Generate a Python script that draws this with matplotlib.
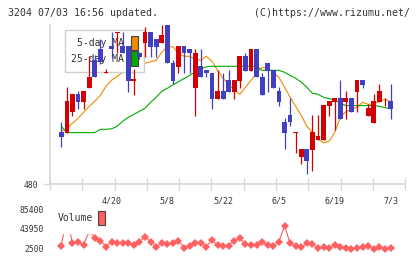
import numpy as np
import matplotlib
matplotlib.use("Agg")
import matplotlib.pyplot as plt
from matplotlib.patches import Patch

plt.rcParams['font.family'] = ['DejaVu Sans Mono', 'DejaVu Sans']

# ---- data ----
day = np.arange(-1, 60)
open_ = [542, 532, 531, 552, 570, 562, 576, 604, 615, 591, 618,
         631, 618, 618, 583, 611, 621, 632, 625, 621, 639,
         601, 597, 618, 615, 576, 598, 594, 591, 565, 573,
         584, 572, 583, 608, 593, 615, 587, 601, 594, 573,
         542, 549, 531, 507, 515, 514, 524, 524, 558, 562,
         566, 562, 566, 572, 584, 548, 541, 562, 563, 563]
high = [542, 542, 577, 570, 573, 573, 608, 609, 625, 595, 632,
        632, 632, 618, 595, 612, 637, 632, 625, 639, 639,
        604, 618, 618, 615, 615, 615, 594, 591, 594, 591,
        594, 584, 608, 611, 615, 615, 591, 601, 594, 577,
        546, 566, 532, 515, 515, 549, 549, 559, 563, 566,
        584, 573, 566, 584, 584, 560, 570, 580, 566, 580]
low = [542, 517, 531, 548, 555, 555, 576, 587, 600, 591, 606,
       611, 611, 572, 569, 605, 607, 607, 607, 621, 601,
       580, 591, 591, 591, 548, 587, 587, 555, 565, 565,
       572, 565, 576, 593, 593, 587, 569, 572, 576, 558,
       515, 538, 511, 500, 490, 493, 524, 524, 548, 534,
       545, 545, 552, 552, 576, 548, 541, 562, 558, 545]
close = [542, 527, 563, 570, 562, 573, 587, 587, 602, 592, 615,
         632, 611, 583, 585, 607, 632, 617, 617, 629, 601,
         583, 618, 611, 611, 611, 587, 591, 565, 573, 565,
         572, 584, 608, 593, 615, 587, 569, 593, 576, 562,
         531, 542, 532, 515, 503, 532, 528, 559, 563, 566,
         545, 566, 552, 584, 579, 556, 563, 573, 563, 555]
ma5 = [np.nan, 533, 536, 541, 546, 552, 558, 563, 569, 578, 584,
       588, 592, 595, 598, 600, 601, 602.5, 604, 612, 617.5,
       617.5, 611, 608, 608, 605, 604, 608, 603, 594, 586,
       580, 574, 570, 577, 584, 591, 597, 596, 591.5, 587,
       577.3, 567, 558, 549, 538, 532, 525.5, 521.5, 523, 532,
       547, 552.5, 555, 557, 562, 560, 560, 563, 565, 562.5]
ma25 = [np.nan, 538, 531.7, 531.7, 531.7, 531.7, 531.7, 531.7, 535, 535, 535.5,
        538, 543, 547, 550, 553, 556, 562, 567, 573, 576,
        579.4, 582.6, 585.8, 589, 592.2, 595.5, 597.5, 598, 598, 598,
        598, 598, 598, 598, 598, 598, 594, 594, 594, 594,
        592, 589, 586, 582.3, 577, 571, 570, 567, 565.7, 564,
        561, 558.7, 558.7, 558.7, 558.7, 558.7, 558.7, 558, 556.7, 555.7]
volume = [np.nan, 8100, 70000, 13100, 15200, 9500, 40000, 25100, 18700, 6000, 16600,
          14500, 14500, 13100, 9500, 16600, 27200, 16600, 6000, 13100, 10900,
          14500, 18000, 3800, 7400, 14500, 13100, 6000, 20200, 9500, 8100,
          7400, 18700, 23700, 11600, 9500, 9500, 15200, 9500, 7400, 16600,
          50600, 13100, 7400, 4600, 13100, 11600, 2400, 4600, 2400, 9500,
          4600, 2400, 1000, 2400, 4600, 7400, 1000, 4600, 1000, 2400]
tick_days = [9, 19, 29, 39, 49, 59]
tick_labels = ['4/20', '5/8', '5/22', '6/5', '6/19', '7/3']
vol_ticks = [2500, 43950, 85400]

RED = '#d40000'
BLUE = '#4040c0'
ORANGE = '#f08c00'
GREEN = '#00aa00'
VOLC = '#ff6060'
GRID = '#d8d8d8'
TXT = '#333333'

W, H = 420, 259
fig = plt.figure(figsize=(W / 100, H / 100), dpi=100)

xmin, xmax = -2.03, 61.65

# ---- price chart ----
ax = fig.add_axes([50 / W, 1 - 184.3 / H, 355.3 / W, 159.3 / H])
o = np.array(open_, float)
c = np.array(close, float)
up = c >= o
cols = np.where(up, RED, BLUE)
ax.vlines(day, low, high, colors=cols, lw=0.9, zorder=6)
body = np.maximum(np.abs(c - o), 0.8)
ax.bar(day, body, bottom=np.minimum(o, c), width=0.86, color=cols,
       linewidth=0, zorder=6)
ax.plot(day, ma5, color=ORANGE, lw=0.8, zorder=2)
ax.plot(day, ma25, color=GREEN, lw=0.8, zorder=2)

ax.set_xlim(xmin, xmax)
ax.set_ylim(480, 639.3)
for s in ['top', 'right']:
    ax.spines[s].set_visible(False)
for s in ['left', 'bottom']:
    ax.spines[s].set_color(GRID)
    ax.spines[s].set_linewidth(1.2)
ax.set_yticks([480])
ax.tick_params(axis='y', length=5, width=1, color=GRID, labelsize=5.8,
               labelcolor=TXT, pad=3.6)
ax.set_xticks(tick_days)
ax.set_xticklabels(tick_labels)
ax.set_xticks(np.linspace(xmin, xmax, 12), minor=True)
ax.tick_params(axis='x', which='major', length=0, labelsize=6,
               labelcolor=TXT, pad=9)
ax.tick_params(axis='x', which='minor', length=9, width=1, color=GRID,
               direction='inout')

handles = [Patch(facecolor=ORANGE, edgecolor='#444444', lw=0.8, label='5-day MA'),
           Patch(facecolor=GREEN, edgecolor='#444444', lw=0.8, label='25-day MA')]
leg = ax.legend(handles=handles, loc='upper left', bbox_to_anchor=(0.042, 0.969),
                borderaxespad=0, markerfirst=False, fontsize=7,
                handlelength=0.7, handleheight=1.85, handletextpad=0.7,
                labelspacing=0.12, borderpad=0.65, fancybox=False,
                framealpha=1, edgecolor='#d0d0d0')
leg.set_zorder(5)
leg.get_frame().set_linewidth(1.0)
for t in leg.get_texts():
    t.set_color(TXT)

# ---- volume chart ----
axv = fig.add_axes([50 / W, 1 - 252 / H, 355.3 / W, 48 / H])
axv.plot(day, volume, color=VOLC, lw=0.8, marker='D', ms=3.6, mew=0, zorder=2)
axv.set_xlim(xmin, xmax)
axv.set_ylim(-5366, 96668)
for s in axv.spines.values():
    s.set_visible(False)
axv.set_xticks([])
axv.set_yticks(vol_ticks)
axv.tick_params(axis='y', length=0, labelsize=5.8, labelcolor=TXT, pad=4.3)
vleg = axv.legend(handles=[Patch(facecolor=VOLC, edgecolor='#444444', lw=0.8, label='Volume')],
                  loc='upper left', bbox_to_anchor=(0, 1.0), borderaxespad=0,
                  markerfirst=False, fontsize=7, handlelength=0.65, handleheight=1.85,
                  handletextpad=0.6, borderpad=0.75, fancybox=False, framealpha=1,
                  edgecolor='white')
vleg.set_zorder(5)
for t in vleg.get_texts():
    t.set_color(TXT)

# ---- header texts ----
fig.text(8 / W, 1 - 12.7 / H, '3204 07/03 16:56 updated.', fontsize=7.1,
         ha='left', va='center', color=TXT)
fig.text(410 / W, 1 - 12.7 / H, '(C)https://www.rizumu.net/', fontsize=7.1,
         ha='right', va='center', color=TXT)

fig.savefig('out.png', dpi=100)
